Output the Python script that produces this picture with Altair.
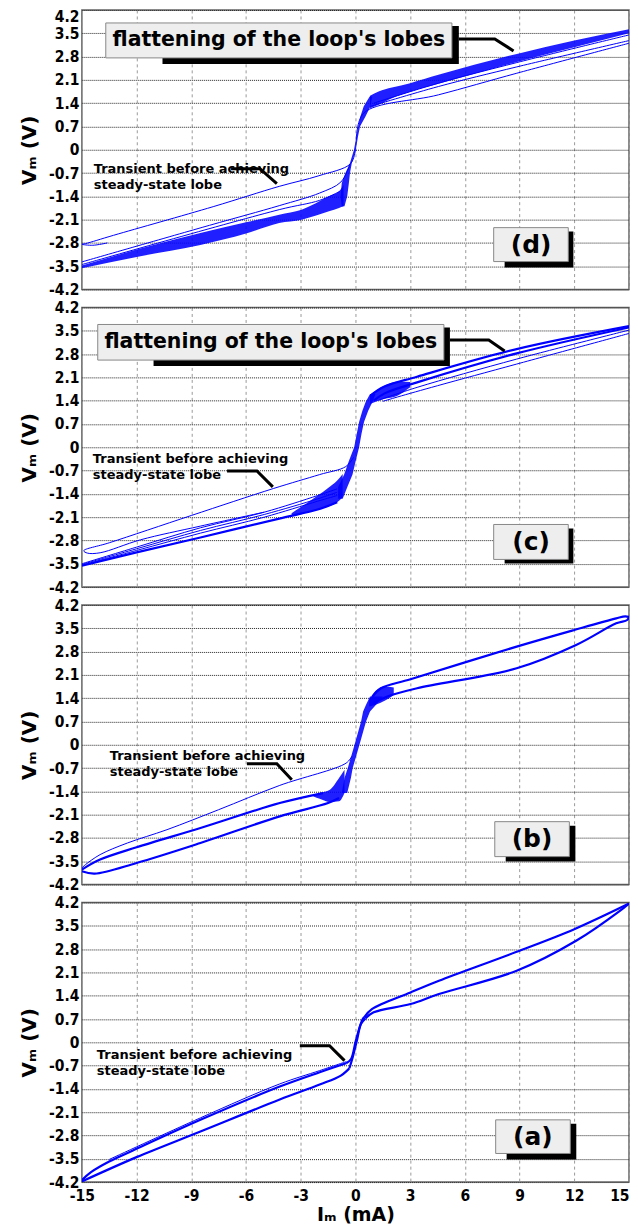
import altair as alt
import pandas as pd

# ---------------- axes ----------------
X_TICKS = [-15, -12, -9, -6, -3, 0, 3, 6, 9, 12, 15]
Y_TICKS = [-4.2, -3.5, -2.8, -2.1, -1.4, -0.7, 0, 0.7, 1.4, 2.1, 2.8, 3.5, 4.2]
X_TITLE = "I\u2098  (mA)"
Y_TITLE = "V\u2098  (V)"
PANEL_KEYS = ["d", "c", "b", "a"]
FLAT_TEXT = "flattening of the loop's lobes"
TRANS_TEXT = ["Transient before achieving", "steady-state lobe"]

# ---------------- panel (d) ----------------
D_LOBE_BANDS = [
    [(-15.0, -3.56, -3.48), (-12.0, -3.22, -3.00), (-8.5, -2.86, -2.50), (-6.0, -2.52, -2.18),
     (-4.18, -2.20, -1.95), (-2.95, -2.10, -1.80), (-1.45, -1.85, -1.40), (-0.9, -1.75, -1.25),
     (-0.65, -1.70, -1.05)],
    [(0.8, 1.25, 1.62), (1.27, 1.35, 1.75), (2.0, 1.55, 1.87), (3.0, 1.74, 2.00), (4.55, 1.98, 2.25),
     (8.85, 2.64, 2.88), (12.0, 3.08, 3.28), (15.0, 3.50, 3.62)],
]
D_CORE = [(-1.7, -0.75, -0.60), (-1.4, -0.82, -0.45), (-1.0, -0.75, -0.36), (-0.7, -0.55, -0.30),
          (-0.4, -0.30, -0.20), (0.0, -0.08, 0.02), (0.4, 0.05, 0.14), (0.7, 0.15, 0.25),
          (1.0, 0.27, 0.55), (1.3, 0.45, 0.82), (1.6, 0.78, 0.92)]
D_BOLD = []
D_THIN = [
    [(0.0, 0.0), (-0.27, -0.42), (-2.0, -0.78), (-4.18, -1.10), (-7.8, -1.71), (-13.26, -2.57),
     (-14.8, -2.82), (-15.0, -2.84), (-14.4, -2.87), (-13.6, -2.80)],
    [(-15.0, -3.37), (-8.0, -2.27), (-4.18, -1.68), (-1.96, -1.30), (-0.8, -0.97), (-0.3, -0.45)],
    [(-15.0, -3.45), (-4.18, -1.80), (-1.96, -1.52), (-0.85, -1.25)],
    [(0.05, 0.30), (0.45, 1.10), (4.55, 1.65), (8.85, 2.30), (15.0, 3.20)],
    [(0.8, 1.30), (4.55, 1.90), (8.85, 2.49), (15.0, 3.28)],
    [(1.0, 1.40), (4.55, 2.00), (8.85, 2.62), (15.0, 3.45)],
]

# ---------------- panel (c) ----------------
C_LOBE_BANDS = [
    [(-3.5, -2.06, -1.98), (-2.07, -1.87, -1.45), (-1.5, -1.78, -1.22), (-1.0, -1.65, -1.00),
     (-0.7, -1.50, -0.80)],
    [(0.8, 1.30, 1.58), (1.56, 1.45, 1.84), (2.3, 1.55, 1.98), (3.0, 1.80, 1.96)],
]
C_CORE = [(-1.55, -0.95, -0.70), (-1.2, -0.95, -0.45), (-0.82, -0.62, -0.16), (-0.4, -0.35, 0.02),
          (0.0, -0.07, 0.20), (0.4, 0.07, 0.33), (0.76, 0.20, 0.47), (1.1, 0.38, 0.70),
          (1.36, 0.56, 0.93), (1.6, 0.80, 1.10)]
C_BOLD = [
    [(-15.0, -3.56), (-12.0, -3.16), (-8.5, -2.71), (-4.0, -2.12), (-2.07, -1.87), (-1.0, -1.65)],
    [(0.84, 1.56), (1.56, 1.82), (3.38, 2.12), (8.84, 2.95), (15.0, 3.64)],
    [(15.0, 3.60), (8.84, 2.82), (3.38, 1.95), (1.6, 1.62), (1.0, 1.40)],
]
C_THIN = [
    [(-15.0, -3.50), (-12.0, -3.00), (-8.5, -2.42), (-5.0, -1.95), (-2.07, -1.45), (-1.0, -1.25)],
    [(-15.0, -3.52), (-12.0, -3.05), (-8.5, -2.50), (-5.0, -2.02), (-2.07, -1.55), (-1.0, -1.35)],
    [(-15.0, -3.54), (-12.0, -3.10), (-8.5, -2.58), (-5.0, -2.10), (-2.07, -1.62), (-1.0, -1.45)],
    [(-0.1, -0.30), (-0.53, -0.58), (-1.96, -0.82), (-4.5, -1.24), (-9.0, -2.05), (-13.5, -2.87),
     (-14.9, -3.11), (-14.7, -3.18), (-14.0, -3.17), (-11.78, -2.78), (-8.51, -2.37), (-5.0, -1.95)],
    [(15.0, 3.52), (8.84, 2.65), (3.38, 1.80), (1.3, 1.42)],
    [(15.0, 3.42), (8.84, 2.50), (4.5, 1.85), (2.3, 1.51), (1.5, 1.38)],
]

# ---------------- panel (b) ----------------
B_LOBE_BANDS = [
    [(-2.3, -1.55, -1.52), (-1.96, -1.62, -1.45), (-1.4, -1.72, -1.35), (-0.9, -1.70, -1.00),
     (-0.6, -1.45, -0.75)],
    [(0.75, 1.15, 1.35), (1.1, 1.20, 1.62), (1.6, 1.32, 1.75), (2.1, 1.50, 1.72)],
]
B_CORE = [(-1.45, -0.75, -0.45), (-1.0, -0.60, -0.25), (-0.7, -0.42, -0.15), (0.0, -0.05, 0.22),
          (0.7, 0.31, 0.58), (1.0, 0.42, 0.80), (1.2, 0.58, 1.13), (1.45, 0.80, 1.50)]
B_BOLD = [
    [(-15.0, -3.75), (-14.0, -3.45), (-12.0, -3.08), (-8.5, -2.50), (-4.15, -1.75), (-1.78, -1.45)],
    [(-15.0, -3.80), (-14.3, -3.87), (-12.0, -3.55), (-8.5, -2.95), (-4.15, -2.15), (-1.5, -1.75),
     (-0.9, -1.60)],
    [(0.93, 1.45), (1.4, 1.70), (3.02, 1.97), (8.84, 2.95), (12.0, 3.45), (14.3, 3.80), (14.8, 3.86),
     (15.0, 3.84)],
    [(15.0, 3.84), (14.9, 3.75), (14.3, 3.65), (12.1, 3.00), (8.84, 2.30), (3.38, 1.70), (1.75, 1.45),
     (1.0, 1.25)],
]
B_THIN = [
    [(-0.2, -0.35), (-0.51, -0.55), (-4.15, -1.22), (-7.5, -1.95), (-10.33, -2.55), (-12.5, -2.95),
     (-14.0, -3.30), (-14.8, -3.60), (-15.0, -3.70)],
]

# ---------------- panel (a) ----------------
A_LOBE_BANDS = []
A_CORE = []
A_BOLD = [
    [(-15.0, -4.14), (-14.5, -3.90), (-13.5, -3.58), (-12.2, -3.25), (-8.5, -2.33), (-4.15, -1.33),
     (-1.96, -0.90), (-0.51, -0.63)],
    [(-15.0, -4.18), (-12.0, -3.45), (-8.5, -2.68), (-4.15, -1.72), (-1.96, -1.27), (-0.8, -1.00),
     (-0.33, -0.78)],
    [(-0.51, -0.63), (-0.24, -0.50), (0.0, 0.00), (0.2, 0.40), (0.4, 0.70), (0.49, 0.76)],
    [(-0.33, -0.78), (-0.15, -0.45), (0.1, 0.10), (0.3, 0.55), (0.55, 0.72)],
    [(0.49, 0.76), (0.9, 1.00), (3.02, 1.50), (4.58, 1.85), (8.84, 2.72), (12.0, 3.40), (15.0, 4.17)],
    [(15.0, 4.17), (14.5, 3.95), (12.1, 3.05), (8.84, 2.15), (4.58, 1.45), (3.02, 1.15), (1.0, 0.90),
     (0.55, 0.72)],
]
A_THIN = [
    [(-13.5, -3.52), (-8.5, -2.27), (-4.15, -1.25), (-1.96, -0.85), (-0.5, -0.58)],
]

PANELS = {
    "d": (D_LOBE_BANDS, D_CORE, D_BOLD, D_THIN),
    "c": (C_LOBE_BANDS, C_CORE, C_BOLD, C_THIN),
    "b": (B_LOBE_BANDS, B_CORE, B_BOLD, B_THIN),
    "a": (A_LOBE_BANDS, A_CORE, A_BOLD, A_THIN),
}

# annotation placement (data coordinates of each panel)
ANN = {
    "d": dict(flat=dict(box=(-13.69, 5.29, 3.81, 2.76), shadow=(-10.58, 5.67, 3.72, 2.58),
                        text=(-4.2, 3.285), lead=[(5.67, 3.33), (7.64, 3.33), (8.67, 2.97)]),
              trans=dict(text=(-14.35, -0.57), lead=[(-6.82, -0.57), (-5.24, -0.57), (-4.31, -1.02)]),
              lab=dict(box=(7.58, 11.67, -2.34, -3.36), shadow=(8.18, 11.95, -2.46, -3.54),
                       text=(9.63, -2.85))),
    "c": dict(flat=dict(box=(-14.13, 4.85, 3.69, 2.62), shadow=(-11.07, 5.18, 3.60, 2.44),
                        text=(-4.64, 3.16), lead=[(5.18, 3.22), (7.31, 3.22), (8.18, 2.89)]),
              trans=dict(text=(-14.4, -0.36), lead=[(-7.04, -0.71), (-5.4, -0.71), (-4.53, -1.19)]),
              lab=dict(box=(7.58, 11.67, -2.32, -3.37), shadow=(8.18, 11.95, -2.44, -3.49),
                       text=(9.63, -2.845))),
    "b": dict(trans=dict(text=(-13.47, -0.345), lead=[(-5.95, -0.57), (-4.31, -0.57), (-3.49, -1.05)]),
              lab=dict(box=(7.64, 11.73, -2.31, -3.36), shadow=(8.24, 12.06, -2.43, -3.51),
                       text=(9.68, -2.835))),
    "a": dict(trans=dict(text=(-14.18, -0.385), lead=[(-3.05, -0.10), (-1.42, -0.10), (-0.6, -0.55)]),
              lab=dict(box=(7.69, 11.78, -2.33, -3.34), shadow=(8.29, 12.11, -2.45, -3.52),
                       text=(9.73, -2.835))),
}

BLUE = "#0000ff"
FONT = "DejaVu Sans"
TICK_FONT = "DejaVu Sans Condensed"
LABEL_EXPR = "replace(format(datum.value, '.1~f'), '\u2212', '-')"
XS = alt.Scale(domain=[-15, 15], nice=False, zero=False)
YS = alt.Scale(domain=[-4.2, 4.2], nice=False, zero=False)
W, H = 548, 280


def lines_df(paths):
    rows = []
    for i, p in enumerate(paths):
        for j, (x, y) in enumerate(p):
            rows.append({"path": i, "o": j, "x": x, "y": y})
    return pd.DataFrame(rows, columns=["path", "o", "x", "y"])


def x_axis(bottom):
    kw = dict(values=X_TICKS, grid=True, gridDash=[3, 3], gridColor="#9a9a9a", gridWidth=1,
              ticks=False, domain=False, labels=bottom, labelExpr=LABEL_EXPR, labelFont=TICK_FONT,
              labelFontSize=15.5, labelFontWeight="bold", labelColor="black", labelPadding=6,
              labelFlush=False, labelOverlap=False,
              labelAlign={"condition": {"test": "datum.value > 14", "value": "right"},
                          "value": "center"})
    if bottom:
        kw.update(title=X_TITLE, titleFont=FONT, titleFontSize=19, titleFontWeight="bold",
                  titleColor="black", titlePadding=2)
    else:
        kw.update(title=None)
    return alt.Axis(**kw)


def y_axis(top):
    kw = dict(values=Y_TICKS, grid=True, gridDash=[1, 1], gridColor="#222222", gridWidth=1,
              ticks=False, domain=False, labelExpr=LABEL_EXPR, labelFont=TICK_FONT,
              labelFontSize=15.5, labelFontWeight="bold", labelColor="black", labelPadding=3,
              labelOverlap=False, title=Y_TITLE, titleFont=FONT, titleFontSize=20,
              titleFontWeight="bold", titleColor="black", titlePadding=9)
    if top:
        kw.update(labelBaseline={"condition": {"test": "datum.value > 4.1", "value": "top"},
                                 "value": "middle"})
    return alt.Axis(**kw)


def build_panel(key, bottom, top):
    ax = x_axis(bottom)
    ay = y_axis(top)

    def enc_xy(xf="x:Q", yf="y:Q"):
        return dict(x=alt.X(xf, scale=XS, axis=ax), y=alt.Y(yf, scale=YS, axis=ay))

    def rect_layer(r, fill, stroke=None):
        df = pd.DataFrame([{"x": r[0], "x2": r[1], "y": r[2], "y2": r[3]}])
        kw = dict(fill=fill)
        if stroke:
            kw.update(stroke=stroke, strokeWidth=1)
        return alt.Chart(df).mark_rect(**kw).encode(x2="x2:Q", y2="y2:Q", **enc_xy())

    def lead_layer(pts):
        return alt.Chart(lines_df([pts])).mark_line(color="black", strokeWidth=3,
                                                    strokeJoin="miter").encode(order="o:Q", **enc_xy())

    def text_layer(pos, txt, size, align, line_height=None):
        df = pd.DataFrame([{"x": pos[0], "y": pos[1]}])
        kw = dict(font=FONT, fontWeight="bold", fontSize=size, align=align, baseline="middle",
                  color="black")
        if line_height:
            kw.update(lineHeight=line_height)
        return alt.Chart(df).mark_text(**kw).encode(text=alt.value(txt), **enc_xy())

    bands, core, bold, thin = PANELS[key]
    layers = []
    layers.append(alt.Chart(lines_df(thin)).mark_line(color=BLUE, strokeWidth=1, clip=True,
                                                      interpolate="catmull-rom").encode(
        detail="path:N", order="o:Q", **enc_xy()))
    for band in bands:
        df = pd.DataFrame(band, columns=["x", "lo", "hi"])
        layers.append(alt.Chart(df).mark_area(color=BLUE, opacity=0.88, clip=True,
                                               interpolate="monotone").encode(
            y2="hi:Q", **enc_xy("x:Q", "lo:Q")))
    if core:
        df = pd.DataFrame(core, columns=["y", "lo", "hi"])
        layers.append(alt.Chart(df).mark_area(color=BLUE, opacity=0.88, orient="horizontal",
                                               clip=True).encode(
            x2="hi:Q", **enc_xy("lo:Q", "y:Q")))
    if bold:
        layers.append(alt.Chart(lines_df(bold)).mark_line(color=BLUE, strokeWidth=2.2, clip=True,
                                                          interpolate="catmull-rom").encode(
            detail="path:N", order="o:Q", **enc_xy()))
    ann = ANN[key]
    if "flat" in ann:
        f = ann["flat"]
        layers += [rect_layer(f["shadow"], "black"),
                   rect_layer(f["box"], "#eeeeee", "#888888"),
                   text_layer(f["text"], FLAT_TEXT, 20.5, "center"),
                   lead_layer(f["lead"])]
    t = ann["trans"]
    layers += [text_layer(t["text"], TRANS_TEXT, 13, "left", 16), lead_layer(t["lead"])]
    lab = ann["lab"]
    layers += [rect_layer(lab["shadow"], "black"),
               rect_layer(lab["box"], "#eeeeee", "#888888"),
               text_layer(lab["text"], "(" + key + ")", 25, "center")]
    return alt.layer(*layers).properties(width=W, height=H)


panels = [build_panel(k, k == "a", k == "d") for k in PANEL_KEYS]
chart = alt.vconcat(*panels, spacing=0).properties(
    padding={"left": 10, "top": 0, "right": 0, "bottom": 0},
    background="white",
).configure_view(stroke="#666666", strokeWidth=1.5)

chart.save("out.html", embed_options={"renderer": "svg", "actions": False})
